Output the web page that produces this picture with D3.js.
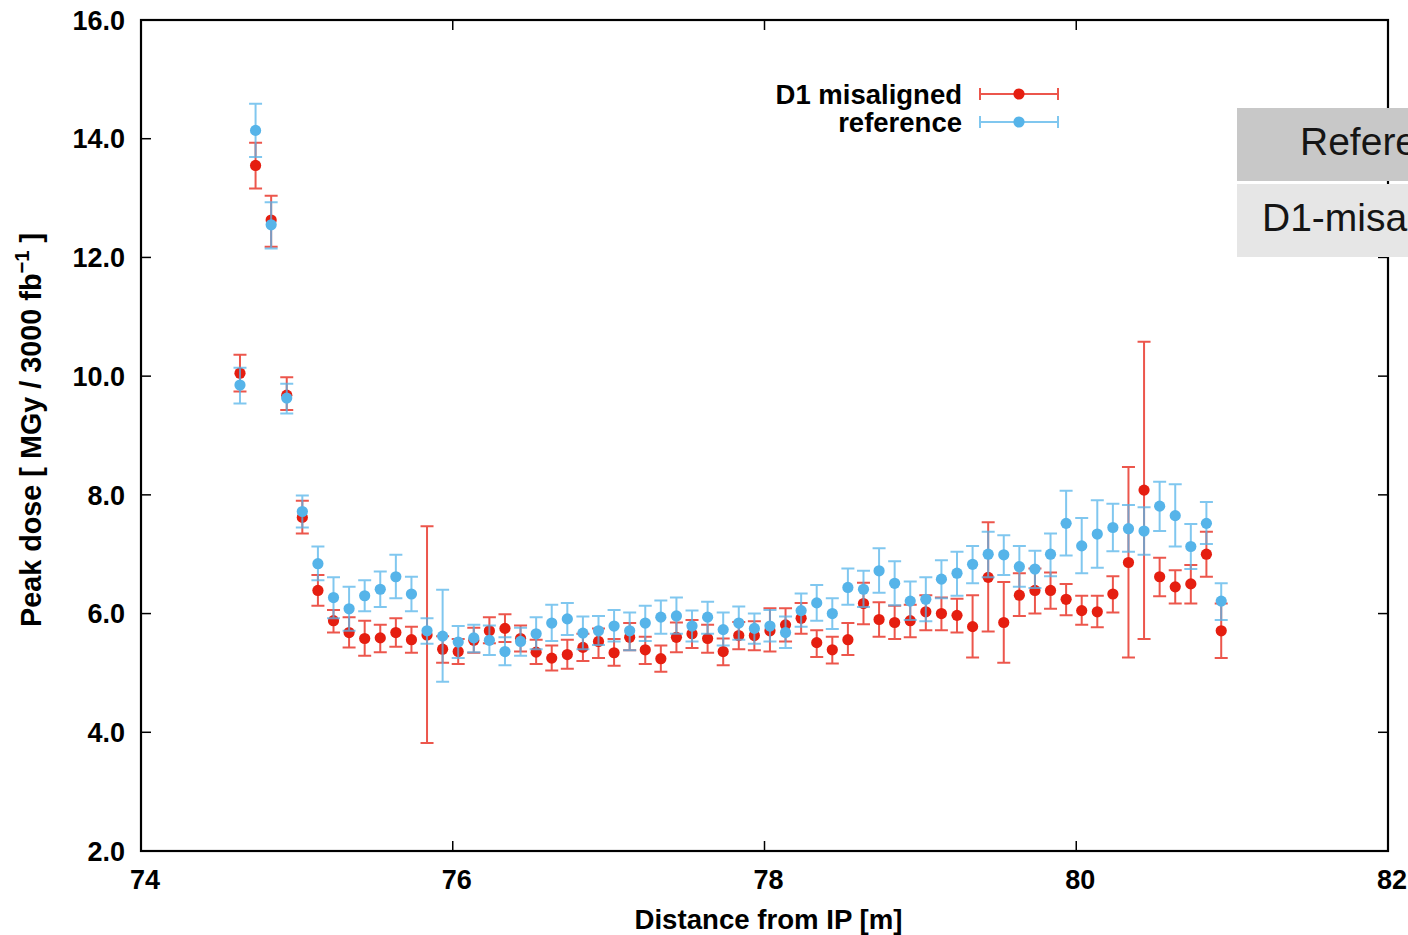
<!DOCTYPE html>
<html lang="en">
<head>
  <meta charset="UTF-8">
  <title>Peak dose vs distance from IP</title>
  <script src="https://d3js.org/d3.v7.min.js"></script>
  <style>
    body {
      margin: 0;
      padding: 0;
      background: #fff;
      font-family: 'Liberation Sans', Arial, sans-serif;
    }
    .tick-label {
      font-size: 27px;
      font-weight: bold;
      fill: #000;
    }
    .axis-title {
      font-size: 27px;
      font-weight: bold;
      fill: #000;
    }
    .legend-label {
      font-size: 27px;
      font-weight: bold;
      fill: #000;
    }
    .table-text {
      font-size: 39px;
      fill: #151515;
    }
  </style>
</head>
<body>
  <div id="chart"></div>
  <script>
    // distance from IP [m]
    const distance = [74.635, 74.735, 74.835, 74.935, 75.035, 75.135, 75.235, 75.335, 75.435, 75.535, 75.635, 75.735, 75.835, 75.935, 76.035, 76.135,
      76.235, 76.335, 76.435, 76.535, 76.635, 76.735, 76.835, 76.935, 77.035, 77.135, 77.235, 77.335, 77.435, 77.535, 77.635, 77.735,
      77.835, 77.935, 78.035, 78.135, 78.235, 78.335, 78.435, 78.535, 78.635, 78.735, 78.835, 78.935, 79.035, 79.135, 79.235, 79.335,
      79.435, 79.535, 79.635, 79.735, 79.835, 79.935, 80.035, 80.135, 80.235, 80.335, 80.435, 80.535, 80.635, 80.735, 80.835, 80.93];

    // D1 misaligned: value, error bar low, error bar high
    const misVal = [10.05, 13.55, 12.63, 9.68, 7.62, 6.39, 5.88, 5.68, 5.58, 5.59, 5.68, 5.56, 5.64, 5.40, 5.36, 5.55,
      5.71, 5.75, 5.58, 5.35, 5.25, 5.31, 5.43, 5.53, 5.34, 5.60, 5.39, 5.24, 5.60, 5.66, 5.58, 5.36,
      5.63, 5.63, 5.71, 5.81, 5.92, 5.51, 5.39, 5.56, 6.17, 5.90, 5.85, 5.88, 6.03, 6.00, 5.97, 5.78,
      6.61, 5.85, 6.31, 6.39, 6.39, 6.24, 6.05, 6.03, 6.33, 6.86, 8.08, 6.62, 6.45, 6.50, 7.00, 5.71];
    const misLo = [9.74, 13.16, 12.18, 9.43, 7.35, 6.13, 5.68, 5.43, 5.29, 5.35, 5.44, 5.34, 3.82, 5.17, 5.15, 5.34,
      5.50, 5.52, 5.36, 5.15, 5.04, 5.07, 5.20, 5.25, 5.12, 5.38, 5.15, 5.02, 5.35, 5.42, 5.34, 5.13,
      5.40, 5.38, 5.36, 5.53, 5.66, 5.27, 5.16, 5.30, 5.82, 5.61, 5.57, 5.60, 5.72, 5.72, 5.68, 5.26,
      5.70, 5.17, 5.96, 6.00, 6.08, 5.97, 5.81, 5.77, 6.02, 5.26, 5.57, 6.29, 6.17, 6.17, 6.62, 5.25];
    const misHi = [10.36, 13.93, 13.04, 9.98, 7.90, 6.65, 6.06, 5.94, 5.88, 5.81, 5.92, 5.78, 7.47, 5.62, 5.57, 5.76,
      5.94, 5.99, 5.80, 5.56, 5.46, 5.56, 5.66, 5.75, 5.57, 5.84, 5.61, 5.46, 5.85, 5.89, 5.81, 5.58,
      5.86, 5.87, 6.09, 6.09, 6.18, 5.72, 5.61, 5.84, 6.52, 6.19, 6.13, 6.15, 6.31, 6.27, 6.25, 6.31,
      7.54, 6.53, 6.68, 6.76, 6.69, 6.50, 6.30, 6.30, 6.63, 8.47, 10.58, 6.94, 6.73, 6.82, 7.38, 6.17];

    // reference: value, error bar low, error bar high
    const refVal = [9.85, 14.14, 12.55, 9.63, 7.72, 6.84, 6.27, 6.08, 6.30, 6.41, 6.62, 6.33, 5.71, 5.62, 5.52, 5.59,
      5.55, 5.36, 5.53, 5.66, 5.84, 5.91, 5.67, 5.71, 5.79, 5.71, 5.84, 5.94, 5.96, 5.79, 5.94, 5.73,
      5.84, 5.75, 5.79, 5.68, 6.05, 6.18, 6.00, 6.44, 6.41, 6.72, 6.51, 6.21, 6.24, 6.58, 6.68, 6.83,
      7.00, 6.99, 6.79, 6.75, 7.00, 7.52, 7.14, 7.34, 7.45, 7.43, 7.39, 7.81, 7.65, 7.13, 7.52, 6.21];
    const refLo = [9.54, 13.69, 12.15, 9.37, 7.45, 6.56, 5.92, 5.71, 6.04, 6.11, 6.26, 6.04, 5.49, 4.85, 5.25, 5.35,
      5.30, 5.13, 5.29, 5.40, 5.54, 5.64, 5.40, 5.47, 5.53, 5.38, 5.54, 5.66, 5.66, 5.53, 5.66, 5.46,
      5.56, 5.49, 5.53, 5.42, 5.78, 5.88, 5.74, 6.15, 6.11, 6.35, 6.14, 5.89, 5.87, 6.26, 6.30, 6.51,
      6.61, 6.65, 6.45, 6.43, 6.63, 6.98, 6.68, 6.77, 7.05, 7.04, 6.99, 7.39, 7.13, 6.75, 7.17, 5.89];
    const refHi = [10.14, 14.59, 12.93, 9.87, 7.99, 7.13, 6.61, 6.45, 6.56, 6.71, 6.99, 6.62, 5.92, 6.40, 5.79, 5.81,
      5.80, 5.60, 5.76, 5.94, 6.15, 6.18, 5.95, 5.96, 6.06, 6.02, 6.13, 6.22, 6.27, 6.05, 6.20, 6.02,
      6.12, 6.00, 6.06, 5.95, 6.34, 6.48, 6.26, 6.76, 6.72, 7.10, 6.88, 6.54, 6.61, 6.90, 7.04, 7.14,
      7.38, 7.32, 7.14, 7.06, 7.35, 8.07, 7.61, 7.91, 7.85, 7.83, 7.79, 8.22, 8.18, 7.51, 7.88, 6.51];

    const xTicks = [74, 76, 78, 80, 82];
    const yTicks = [2, 4, 6, 8, 10, 12, 14, 16];

    const seriesNames = ["D1 misaligned", "reference"];
    const seriesColors = ["#e51e10", "#56b4e9"];
    const tableRows = ["Reference", "D1-misaligned"];

    const W = 1408, H = 935;
    const margin = { top: 20, right: 20, bottom: 84, left: 141 };
    const width = 1388 - margin.left;
    const height = 851 - margin.top;

    const svg = d3.select("#chart")
      .append("svg")
      .attr("width", W)
      .attr("height", H);

    svg.append("rect").attr("width", W).attr("height", H).attr("fill", "#fff");

    const g = svg.append("g")
      .attr("transform", `translate(${margin.left},${margin.top})`);

    const x = d3.scaleLinear().domain([74, 82]).range([0, width]);
    const y = d3.scaleLinear().domain([2, 16]).range([height, 0]);

    // tick marks (gnuplot style, inward on all four sides)
    const tickLen = 10;
    xTicks.forEach(t => {
      g.append("line").attr("x1", x(t)).attr("x2", x(t)).attr("y1", height).attr("y2", height - tickLen)
        .attr("stroke", "#000").attr("stroke-width", 1.5);
      g.append("line").attr("x1", x(t)).attr("x2", x(t)).attr("y1", 0).attr("y2", tickLen)
        .attr("stroke", "#000").attr("stroke-width", 1.5);
    });
    yTicks.forEach(t => {
      g.append("line").attr("x1", 0).attr("x2", tickLen).attr("y1", y(t)).attr("y2", y(t))
        .attr("stroke", "#000").attr("stroke-width", 1.5);
      g.append("line").attr("x1", width).attr("x2", width - tickLen).attr("y1", y(t)).attr("y2", y(t))
        .attr("stroke", "#000").attr("stroke-width", 1.5);
    });

    // tick labels
    g.selectAll(".ylab")
      .data(yTicks)
      .enter()
      .append("text")
      .attr("class", "tick-label")
      .attr("x", -16)
      .attr("y", d => y(d))
      .attr("dy", "0.36em")
      .attr("text-anchor", "end")
      .text(d3.format(".1f"));

    g.selectAll(".xlab")
      .data(xTicks)
      .enter()
      .append("text")
      .attr("class", "tick-label")
      .attr("x", d => x(d) + 4)
      .attr("y", height + 38)
      .attr("text-anchor", "middle")
      .text(d => d);

    // axis titles
    g.append("text")
      .attr("class", "axis-title")
      .attr("x", width / 2 + 4)
      .attr("y", height + 78)
      .attr("text-anchor", "middle")
      .attr("textLength", 268)
      .attr("lengthAdjust", "spacingAndGlyphs")
      .text("Distance from IP [m]");

    const yTitle = svg.append("text")
      .attr("class", "axis-title")
      .attr("text-anchor", "middle")
      .style("font-size", "30px")
      .attr("transform", `translate(41,430) rotate(-90) scale(0.96,1)`);
    yTitle.append("tspan").text("Peak dose [ MGy / 3000 fb");
    yTitle.append("tspan").attr("dy", -12).style("font-size", "21px").text("\u22121");
    yTitle.append("tspan").attr("dy", 12).text(" ]");

    // series
    const series = [
      { vals: misVal, lo: misLo, hi: misHi },
      { vals: refVal, lo: refLo, hi: refHi }
    ];
    const cap = 6.5;

    series.forEach((s, k) => {
      const rows = distance.map((d, i) => ({ x: d, v: s.vals[i], lo: s.lo[i], hi: s.hi[i] }));
      const sg = g.append("g");
      const color = seriesColors[k];

      sg.selectAll(".bar")
        .data(rows)
        .enter()
        .append("path")
        .attr("d", d => {
          const px = x(d.x), y0 = y(d.lo), y1 = y(d.hi);
          return `M${px},${y0}V${y1}M${px - cap},${y0}H${px + cap}M${px - cap},${y1}H${px + cap}`;
        })
        .attr("fill", "none")
        .attr("stroke", color)
        .attr("stroke-width", 2)
        .attr("stroke-opacity", 0.75);

      sg.selectAll(".dot")
        .data(rows)
        .enter()
        .append("circle")
        .attr("cx", d => x(d.x))
        .attr("cy", d => y(d.v))
        .attr("r", 5.6)
        .attr("fill", color);
    });

    // legend
    seriesNames.forEach((name, k) => {
      const ly = 94 + k * 28;
      const color = seriesColors[k];
      svg.append("text")
        .attr("class", "legend-label")
        .attr("x", 962)
        .attr("y", ly)
        .attr("dy", "0.36em")
        .attr("text-anchor", "end")
        .style("font-size", "27.5px")
        .text(name);
      svg.append("path")
        .attr("d", `M980,${ly}H1058M980,${ly - 6}V${ly + 6}M1058,${ly - 6}V${ly + 6}`)
        .attr("fill", "none")
        .attr("stroke", color)
        .attr("stroke-width", 2)
        .attr("stroke-opacity", 0.75);
      svg.append("circle").attr("cx", 1019).attr("cy", ly).attr("r", 5.6).attr("fill", color);
    });

    // frame
    g.append("rect")
      .attr("width", width)
      .attr("height", height)
      .attr("fill", "none")
      .attr("stroke", "#000")
      .attr("stroke-width", 2.2);

    // pasted table, cut off at the right edge as in the source image
    const tableFills = ["#c8c8c8", "#e6e6e6"];
    const tableTextX = [1300, 1262];
    tableRows.forEach((t, k) => {
      const ty = 108 + k * 76;
      svg.append("rect")
        .attr("x", 1237).attr("y", ty)
        .attr("width", 200).attr("height", 73)
        .attr("fill", tableFills[k]);
      svg.append("text")
        .attr("class", "table-text")
        .attr("x", tableTextX[k])
        .attr("y", ty + 47)
        .text(t);
    });
  </script>
</body>
</html>
